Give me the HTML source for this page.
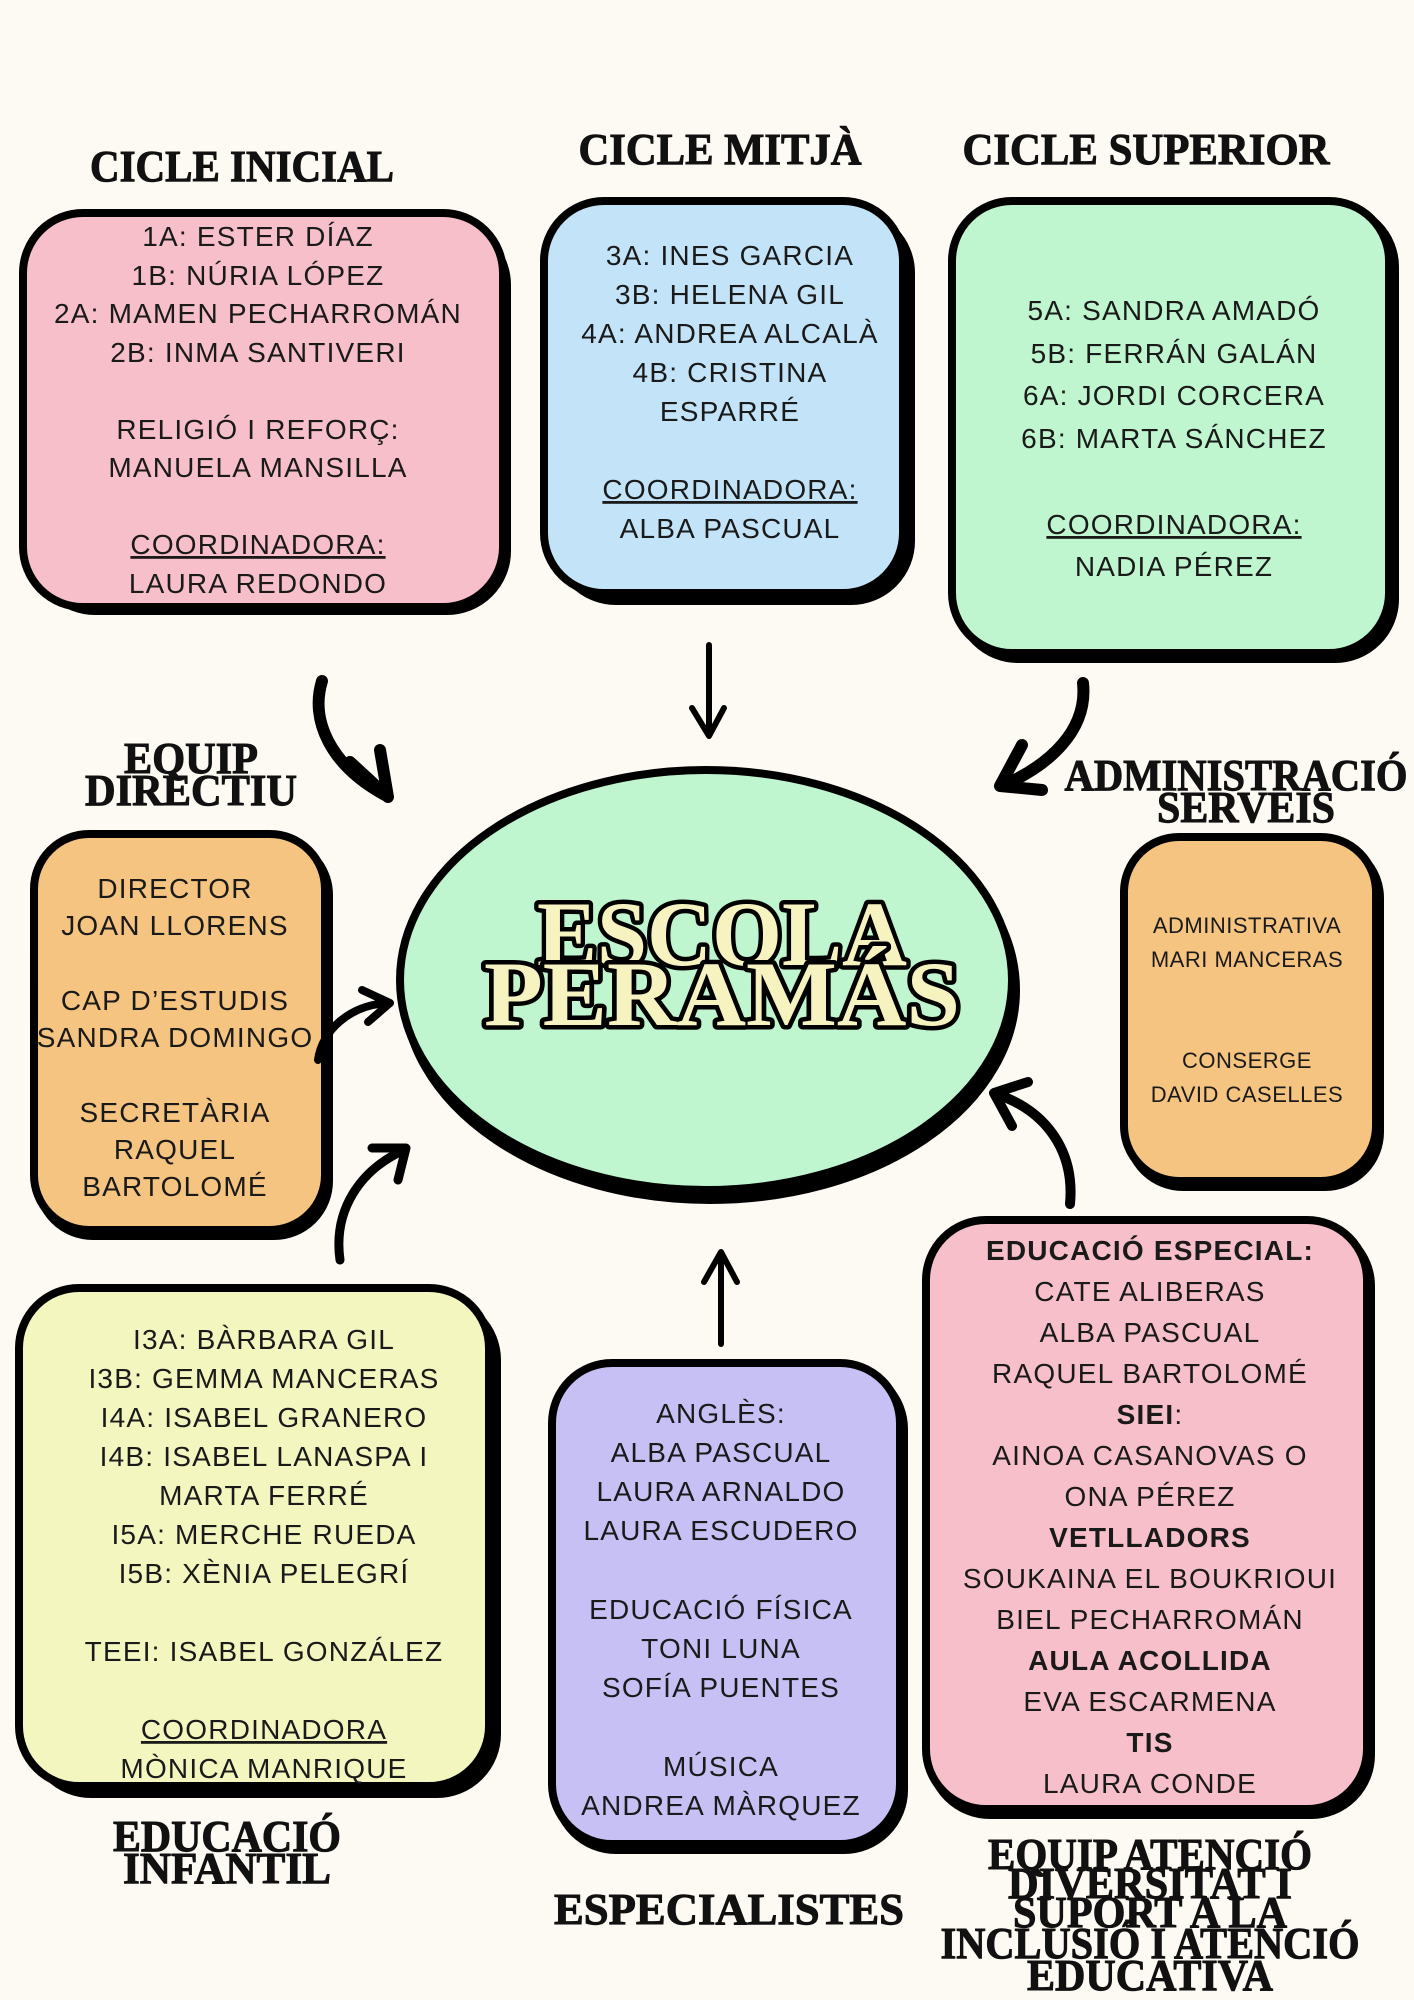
<!DOCTYPE html>
<html><head><meta charset="utf-8"><style>
html,body{margin:0;padding:0;background:#fdfaf4;}
svg{display:block;}
.t{font-family:"Liberation Serif",serif;font-weight:bold;font-size:44px;fill:#111;text-anchor:middle;stroke:#111;stroke-width:1;}
.b{font-family:"Liberation Sans",sans-serif;font-size:28px;fill:#1a1a1a;text-anchor:middle;letter-spacing:1.2px;}
.s{font-family:"Liberation Sans",sans-serif;font-size:22px;fill:#1a1a1a;text-anchor:middle;letter-spacing:0.5px;}
.u{text-decoration:underline;}
.bold{font-weight:bold;}
</style></head><body>
<svg width="1414" height="2000" viewBox="0 0 1414 2000" xmlns="http://www.w3.org/2000/svg">
<rect width="1414" height="2000" fill="#fdfaf4"/>

<!-- Titles -->
<text class="t" x="242" y="181" textLength="304" lengthAdjust="spacingAndGlyphs">CICLE INICIAL</text>
<text class="t" x="720" y="164" textLength="283" lengthAdjust="spacingAndGlyphs">CICLE MITJÀ</text>
<text class="t" x="1146" y="164" textLength="367" lengthAdjust="spacingAndGlyphs">CICLE SUPERIOR</text>
<text class="t" x="191" y="773" textLength="134" lengthAdjust="spacingAndGlyphs">EQUIP</text>
<text class="t" x="191" y="805" textLength="212" lengthAdjust="spacingAndGlyphs">DIRECTIU</text>
<text class="t" x="1236" y="790" textLength="343" lengthAdjust="spacingAndGlyphs">ADMINISTRACIÓ</text>
<text class="t" x="1246" y="822" textLength="178" lengthAdjust="spacingAndGlyphs">SERVEIS</text>
<text class="t" x="227" y="1851" textLength="228" lengthAdjust="spacingAndGlyphs">EDUCACIÓ</text>
<text class="t" x="227" y="1883" textLength="208" lengthAdjust="spacingAndGlyphs">INFANTIL</text>
<text class="t" x="729" y="1924" textLength="350" lengthAdjust="spacingAndGlyphs">ESPECIALISTES</text>
<text class="t" x="1150" y="1869" textLength="324" lengthAdjust="spacingAndGlyphs">EQUIP ATENCIÓ</text>
<text class="t" x="1150" y="1898" textLength="284" lengthAdjust="spacingAndGlyphs">DIVERSITAT I</text>
<text class="t" x="1150" y="1927" textLength="274" lengthAdjust="spacingAndGlyphs">SUPORT A LA</text>
<text class="t" x="1150" y="1958" textLength="419" lengthAdjust="spacingAndGlyphs">INCLUSIÓ I ATENCIÓ</text>
<text class="t" x="1150" y="1990" textLength="246" lengthAdjust="spacingAndGlyphs">EDUCATIVA</text>

<!-- Boxes -->
<g stroke="#000" stroke-width="8">
<rect x="35" y="225" width="472" height="386" rx="60" fill="#000"/>
<rect x="23" y="213" width="480" height="394" rx="60" fill="#f6bfca"/>

<rect x="556" y="213" width="355" height="388" rx="60" fill="#000"/>
<rect x="544" y="201" width="359" height="392" rx="60" fill="#c3e3f8"/>

<rect x="958" y="207" width="437" height="452" rx="60" fill="#000"/>
<rect x="952" y="201" width="437" height="452" rx="60" fill="#bff5cf"/>

<rect x="38" y="840" width="291" height="396" rx="55" fill="#000"/>
<rect x="34" y="834" width="291" height="396" rx="55" fill="#f4c480"/>

<rect x="1128" y="843" width="252" height="344" rx="55" fill="#000"/>
<rect x="1124" y="837" width="252" height="344" rx="55" fill="#f4c480"/>

<rect x="31" y="1300" width="466" height="494" rx="60" fill="#000"/>
<rect x="19" y="1288" width="470" height="498" rx="60" fill="#f4f6c0"/>

<rect x="556" y="1369" width="348" height="481" rx="60" fill="#000"/>
<rect x="552" y="1363" width="348" height="481" rx="60" fill="#c7c0f5"/>

<rect x="930" y="1226" width="441" height="589" rx="60" fill="#000"/>
<rect x="926" y="1220" width="441" height="589" rx="60" fill="#f6bfca"/>

<ellipse cx="710" cy="990" rx="306" ry="210" fill="#000"/>
<ellipse cx="706" cy="980" rx="306" ry="210" fill="#bff5cf"/>
</g>

<!-- Escola Peramas -->
<g font-family="Liberation Serif, serif" font-weight="bold" text-anchor="middle" fill="#f7f3c0" stroke="#000" stroke-width="9" paint-order="stroke" stroke-linejoin="round">
<text x="722" y="965" font-size="92" textLength="370" lengthAdjust="spacingAndGlyphs">ESCOLA</text>
<text x="722" y="1025" font-size="92" textLength="476" lengthAdjust="spacingAndGlyphs">PERAMÁS</text>
</g>

<!-- Cicle inicial -->
<text class="b" x="258" y="246">1A: ESTER DÍAZ</text>
<text class="b" x="258" y="285">1B: NÚRIA LÓPEZ</text>
<text class="b" x="258" y="323">2A: MAMEN PECHARROMÁN</text>
<text class="b" x="258" y="362">2B: INMA SANTIVERI</text>
<text class="b" x="258" y="439">RELIGIÓ I REFORÇ:</text>
<text class="b" x="258" y="477">MANUELA MANSILLA</text>
<text class="b u" x="258" y="554">COORDINADORA:</text>
<text class="b" x="258" y="593">LAURA REDONDO</text>

<!-- Cicle mitja -->
<text class="b" x="730" y="265">3A: INES GARCIA</text>
<text class="b" x="730" y="304">3B: HELENA GIL</text>
<text class="b" x="730" y="343">4A: ANDREA ALCALÀ</text>
<text class="b" x="730" y="382">4B: CRISTINA</text>
<text class="b" x="730" y="421">ESPARRÉ</text>
<text class="b u" x="730" y="499">COORDINADORA:</text>
<text class="b" x="730" y="538">ALBA PASCUAL</text>

<!-- Cicle superior -->
<text class="b" x="1174" y="320">5A: SANDRA AMADÓ</text>
<text class="b" x="1174" y="363">5B: FERRÁN GALÁN</text>
<text class="b" x="1174" y="405">6A: JORDI CORCERA</text>
<text class="b" x="1174" y="448">6B: MARTA SÁNCHEZ</text>
<text class="b u" x="1174" y="534">COORDINADORA:</text>
<text class="b" x="1174" y="576">NADIA PÉREZ</text>

<!-- Equip directiu -->
<text class="b" x="175" y="898">DIRECTOR</text>
<text class="b" x="175" y="935">JOAN LLORENS</text>
<text class="b" x="175" y="1010">CAP D’ESTUDIS</text>
<text class="b" x="175" y="1047">SANDRA DOMINGO</text>
<text class="b" x="175" y="1122">SECRETÀRIA</text>
<text class="b" x="175" y="1159">RAQUEL</text>
<text class="b" x="175" y="1196">BARTOLOMÉ</text>

<!-- Administracio -->
<text class="s" x="1247" y="933">ADMINISTRATIVA</text>
<text class="s" x="1247" y="967">MARI MANCERAS</text>
<text class="s" x="1247" y="1068">CONSERGE</text>
<text class="s" x="1247" y="1102">DAVID CASELLES</text>

<!-- Infantil -->
<text class="b" x="264" y="1349">I3A: BÀRBARA GIL</text>
<text class="b" x="264" y="1388">I3B: GEMMA MANCERAS</text>
<text class="b" x="264" y="1427">I4A: ISABEL GRANERO</text>
<text class="b" x="264" y="1466">I4B: ISABEL LANASPA I</text>
<text class="b" x="264" y="1505">MARTA FERRÉ</text>
<text class="b" x="264" y="1544">I5A: MERCHE RUEDA</text>
<text class="b" x="264" y="1583">I5B: XÈNIA PELEGRÍ</text>
<text class="b" x="264" y="1661">TEEI: ISABEL GONZÁLEZ</text>
<text class="b u" x="264" y="1739">COORDINADORA</text>
<text class="b" x="264" y="1778">MÒNICA MANRIQUE</text>

<!-- Especialistes -->
<text class="b" x="721" y="1423">ANGLÈS:</text>
<text class="b" x="721" y="1462">ALBA PASCUAL</text>
<text class="b" x="721" y="1501">LAURA ARNALDO</text>
<text class="b" x="721" y="1540">LAURA ESCUDERO</text>
<text class="b" x="721" y="1619">EDUCACIÓ FÍSICA</text>
<text class="b" x="721" y="1658">TONI LUNA</text>
<text class="b" x="721" y="1697">SOFÍA PUENTES</text>
<text class="b" x="721" y="1776">MÚSICA</text>
<text class="b" x="721" y="1815">ANDREA MÀRQUEZ</text>

<!-- Equip atencio -->
<text class="b bold" x="1150" y="1260">EDUCACIÓ ESPECIAL:</text>
<text class="b" x="1150" y="1301">CATE ALIBERAS</text>
<text class="b" x="1150" y="1342">ALBA PASCUAL</text>
<text class="b" x="1150" y="1383">RAQUEL BARTOLOMÉ</text>
<text class="b" x="1150" y="1424"><tspan font-weight="bold">SIEI</tspan>:</text>
<text class="b" x="1150" y="1465">AINOA CASANOVAS O</text>
<text class="b" x="1150" y="1506">ONA PÉREZ</text>
<text class="b bold" x="1150" y="1547">VETLLADORS</text>
<text class="b" x="1150" y="1588">SOUKAINA EL BOUKRIOUI</text>
<text class="b" x="1150" y="1629">BIEL PECHARROMÁN</text>
<text class="b bold" x="1150" y="1670">AULA ACOLLIDA</text>
<text class="b" x="1150" y="1711">EVA ESCARMENA</text>
<text class="b bold" x="1150" y="1752">TIS</text>
<text class="b" x="1150" y="1793">LAURA CONDE</text>

<!-- Arrows -->
<g fill="none" stroke="#000" stroke-linecap="round" stroke-linejoin="round">
<path d="M322 681 C310 720 330 765 385 795" stroke-width="12"/>
<path d="M350 762 L388 797 L380 750" stroke-width="12"/>
<path d="M709 645 L709 734" stroke-width="6"/>
<path d="M692 708 L709 736 L724 708" stroke-width="6"/>
<path d="M1083 683 C1088 730 1050 765 1002 786" stroke-width="12"/>
<path d="M1022 745 L1000 786 L1042 790" stroke-width="12"/>
<path d="M318 1060 C322 1030 350 1005 388 1003" stroke-width="8"/>
<path d="M362 990 L390 1003 L368 1022" stroke-width="8"/>
<path d="M340 1260 C333 1210 360 1170 404 1150" stroke-width="9"/>
<path d="M372 1148 L406 1148 L398 1180" stroke-width="9"/>
<path d="M721 1344 L721 1254" stroke-width="6"/>
<path d="M704 1282 L721 1252 L737 1282" stroke-width="6"/>
<path d="M1070 1204 C1075 1150 1045 1110 996 1094" stroke-width="10"/>
<path d="M1028 1082 L994 1093 L1012 1126" stroke-width="10"/>
</g>
</svg>
</body></html>
